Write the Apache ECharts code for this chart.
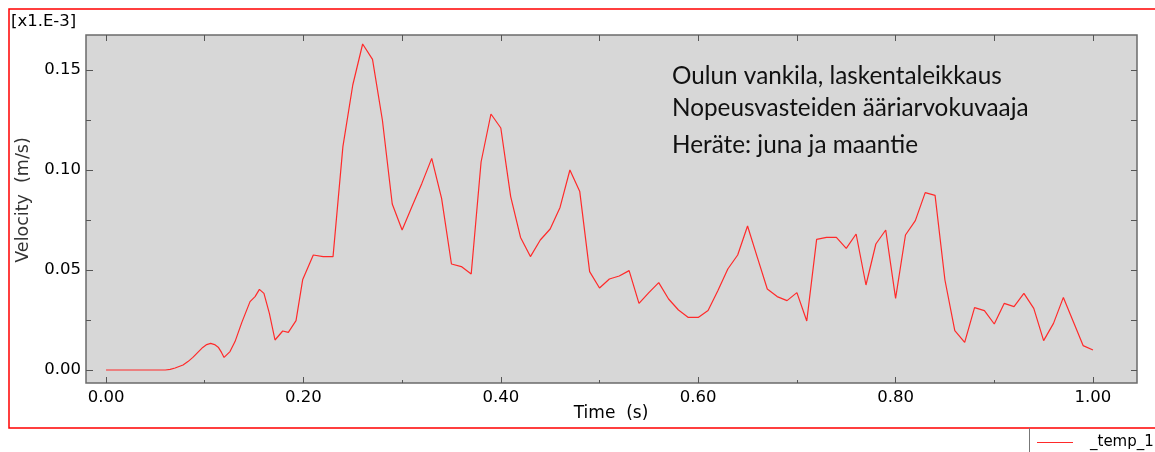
<!DOCTYPE html>
<html lang="fi">
<head>
    <meta charset="UTF-8">
    <title>Nopeusvasteiden ääriarvokuvaaja</title>
    <script src="https://cdn.jsdelivr.net/npm/echarts@6.0.0/dist/echarts.min.js"></script>
    <style>
        html, body { margin: 0; padding: 0; background: #fff; }
        #chart { width: 1155px; height: 452px; }
    </style>
</head>
<body>
    <div id="chart"></div>
    <script>
        // aika (s)
        var time = [
            0, 0.01, 0.02, 0.03, 0.04, 0.05, 0.06, 0.065, 0.07, 0.078, 0.083, 0.088, 0.093, 0.098,
            0.102, 0.106, 0.110, 0.114, 0.117, 0.1196, 0.1256, 0.1307, 0.1375, 0.1459, 0.151, 0.1554,
            0.160, 0.1655, 0.1712, 0.179, 0.1847, 0.1925, 0.1993,
            0.21, 0.22, 0.23, 0.24, 0.25, 0.26, 0.27, 0.28, 0.29, 0.30,
            0.31, 0.32, 0.33, 0.34, 0.35, 0.36, 0.37, 0.38, 0.39, 0.40,
            0.41, 0.42, 0.43, 0.44, 0.45, 0.46, 0.47, 0.48, 0.49, 0.50,
            0.51, 0.52, 0.53, 0.54, 0.55, 0.56, 0.57, 0.58, 0.59, 0.60,
            0.61, 0.62, 0.63, 0.64, 0.65, 0.66, 0.67, 0.68, 0.69, 0.70,
            0.71, 0.72, 0.73, 0.74, 0.75, 0.76, 0.77, 0.78, 0.79, 0.80,
            0.81, 0.82, 0.83, 0.84, 0.85, 0.86, 0.87, 0.88, 0.89, 0.90,
            0.91, 0.92, 0.93, 0.94, 0.95, 0.96, 0.97, 0.98, 0.99, 1.00
        ];
        // nopeus (m/s) [x1.E-3]
        var velocity = [
            0, 0, 0, 0, 0, 0, 0, 0.0003, 0.001, 0.0025, 0.0042, 0.0063, 0.0088, 0.0113,
            0.0127, 0.0133, 0.0127, 0.0112, 0.0088, 0.0063, 0.0092, 0.0142, 0.0237, 0.0342, 0.0367, 0.0403,
            0.0383, 0.0283, 0.015, 0.0195, 0.0188, 0.0247, 0.0453,
            0.0575, 0.0567, 0.0567, 0.1117, 0.1425, 0.163, 0.1553, 0.125, 0.083, 0.070,
            0.0817, 0.0933, 0.1058, 0.0858, 0.053, 0.0517, 0.048, 0.104, 0.128, 0.121,
            0.0867, 0.0663, 0.0567, 0.065, 0.0705, 0.0813, 0.100, 0.0892, 0.0492, 0.041,
            0.0455, 0.047, 0.0497, 0.0333, 0.0387, 0.0437, 0.0355, 0.030, 0.0263, 0.0263,
            0.0297, 0.0397, 0.0505, 0.0575, 0.072, 0.0562, 0.0405, 0.0367, 0.0347, 0.0387,
            0.0245, 0.0653, 0.0663, 0.0663, 0.0608, 0.068, 0.0425, 0.063, 0.070, 0.0358,
            0.0675, 0.0747, 0.0887, 0.0873, 0.045, 0.0197, 0.0138, 0.0312, 0.0297, 0.023,
            0.0333, 0.0317, 0.0383, 0.0308, 0.0147, 0.0233, 0.0363, 0.0242, 0.0122, 0.010
        ];
        var xLabelTicks = [0, 0.2, 0.4, 0.6, 0.8, 1.0];
        var xTicks = [0, 0.1, 0.2, 0.3, 0.4, 0.5, 0.6, 0.7, 0.8, 0.9, 1.0];
        var yLabelTicks = [0, 0.05, 0.10, 0.15];
        var yTicks = [0, 0.025, 0.05, 0.075, 0.10, 0.125, 0.15];
        var notes = ['Oulun vankila, laskentaleikkaus', 'Nopeusvasteiden ääriarvokuvaaja', 'Heräte: juna ja maantie'];

        var xMin = -0.0203, xMax = 1.0446;
        var yMin = -0.0065, yMax = 0.1675;
        var tickFont = { fontFamily: 'DejaVu Sans', fontSize: 16.5, color: '#000' };

        // akselit ilman viivaa, vain tikit (kehys tulee gridistä)
        function xAxisBase(pos) {
            return {
                type: 'value', min: xMin, max: xMax, position: pos,
                axisLine: { show: false, onZero: false }, splitLine: { show: false },
                axisLabel: { show: false }
            };
        }
        function yAxisBase(pos) {
            return {
                type: 'value', min: yMin, max: yMax, position: pos,
                axisLine: { show: false, onZero: false }, splitLine: { show: false },
                axisLabel: { show: false }
            };
        }

        var myChart = echarts.init(document.getElementById('chart'));

        var xMain = xAxisBase('bottom');
        xMain.axisTick = { inside: true, length: 6, customValues: xLabelTicks, lineStyle: { color: '#555' } };
        xMain.axisLabel = Object.assign({
            show: true, margin: 6, customValues: xLabelTicks,
            formatter: function (v) { return v.toFixed(2); }
        }, tickFont);
        var xMinor = xAxisBase('bottom');
        xMinor.axisTick = { inside: true, length: 3, customValues: xTicks, lineStyle: { color: '#555' } };
        var xTop = xAxisBase('top');
        xTop.axisTick = { inside: true, length: 6, customValues: xTicks, lineStyle: { color: '#555' } };

        var yMain = yAxisBase('left');
        yMain.axisTick = { inside: true, length: 7, customValues: yLabelTicks, lineStyle: { color: '#555' } };
        yMain.axisLabel = Object.assign({
            show: true, margin: 5, customValues: yLabelTicks,
            formatter: function (v) { return v.toFixed(2); }
        }, tickFont);
        var yMinor = yAxisBase('left');
        yMinor.axisTick = { inside: true, length: 5, customValues: yTicks, lineStyle: { color: '#555' } };
        var yRight = yAxisBase('right');
        yRight.axisTick = { inside: true, length: 6, customValues: yTicks, lineStyle: { color: '#555' } };

        var option = {
            animation: false,
            grid: {
                left: 86, top: 35, width: 1051, height: 348,
                show: true, backgroundColor: '#d7d7d7',
                borderColor: '#6b6b6b', borderWidth: 1.5
            },
            xAxis: [xMain, xMinor, xTop],
            yAxis: [yMain, yMinor, yRight],
            series: [
                {
                    name: '_temp_1',
                    type: 'line',
                    xAxisIndex: 0,
                    yAxisIndex: 0,
                    symbol: 'none',
                    lineStyle: { color: '#ff2a2a', width: 1.2 },
                    data: time.map(function (t, i) { return [t, velocity[i]]; })
                }
            ],
            graphic: [
                {
                    type: 'rect', silent: true,
                    shape: { x: 9, y: 9, width: 1170, height: 419 },
                    style: { fill: 'none', stroke: '#ff0000', lineWidth: 1.5 }
                },
                {
                    type: 'text', left: 11, top: 13,
                    style: { text: '[x1.E-3]', font: '16.5px "DejaVu Sans"', fill: '#000' }
                },
                {
                    type: 'text', x: 23, y: 200, rotation: Math.PI / 2,
                    style: { text: 'Velocity  (m/s)', font: '17.5px "DejaVu Sans"', fill: '#333', align: 'center', verticalAlign: 'middle' }
                },
                {
                    type: 'text', x: 611, y: 414,
                    style: { text: 'Time  (s)', font: '17px "DejaVu Sans"', fill: '#000', align: 'center', verticalAlign: 'middle' }
                },
                {
                    type: 'text', x: 672, y: 76,
                    style: { text: notes[0], font: '24.3px Lato', fill: '#111', verticalAlign: 'middle' }
                },
                {
                    type: 'text', x: 672, y: 108,
                    style: { text: notes[1], font: '24.3px Lato', fill: '#111', verticalAlign: 'middle' }
                },
                {
                    type: 'text', x: 672, y: 145,
                    style: { text: notes[2], font: '24.3px Lato', fill: '#111', verticalAlign: 'middle' }
                },
                {
                    type: 'line', silent: true,
                    shape: { x1: 1029.5, y1: 428, x2: 1029.5, y2: 452 },
                    style: { stroke: '#777', lineWidth: 1 }
                },
                {
                    type: 'line', silent: true,
                    shape: { x1: 1037, y1: 442.5, x2: 1073, y2: 442.5 },
                    style: { stroke: '#ff2a2a', lineWidth: 1.2 }
                },
                {
                    type: 'text', x: 1090, y: 442,
                    style: { text: '_temp_1', font: '15px "DejaVu Sans"', fill: '#000', verticalAlign: 'middle' }
                }
            ]
        };

        myChart.setOption(option);
    </script>
</body>
</html>
